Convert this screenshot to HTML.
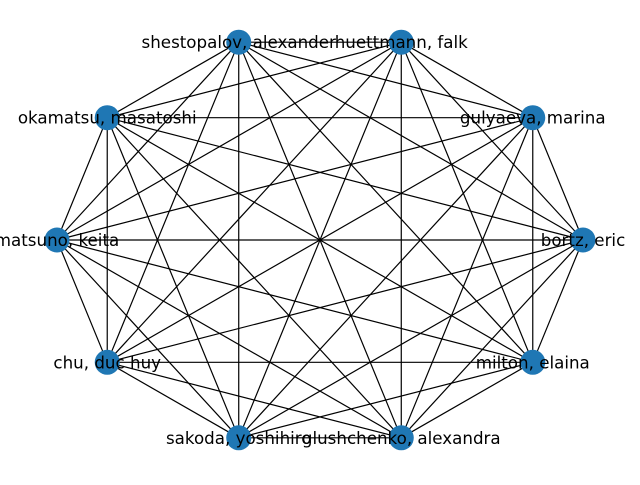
<!DOCTYPE html>
<html><head><meta charset="utf-8"><style>
html,body{margin:0;padding:0;background:#fff;}
svg text{font-family:"DejaVu Sans","Liberation Sans",sans-serif;font-size:16.7px;fill:#000;}
</style></head><body>
<svg id="chart" width="640" height="480" viewBox="0 0 640 480" xmlns="http://www.w3.org/2000/svg">
<g id="edges"></g>
<g id="nodes"></g>
<g id="labels"></g>
</svg>
<script>
const nodeNames = ["bortz, eric","gulyaeva, marina","huettmann, falk","shestopalov, alexander","okamatsu, masatoshi","matsuno, keita","chu, duc huy","sakoda, yoshihiro","glushchenko, alexandra","milton, elaina"];
const nodeX = [1.0, 0.809, 0.309, -0.309, -0.809, -1.0, -0.809, -0.309, 0.309, 0.809];
const nodeY = [0.0, 0.588, 0.951, 0.951, 0.588, 0.0, -0.588, -0.951, -0.951, -0.588];
const edgeList = [];
for (let i = 0; i < nodeNames.length; i++) for (let j = i + 1; j < nodeNames.length; j++) edgeList.push([i, j]);

const NS = "http://www.w3.org/2000/svg";
const sx = v => 320 + 263 * v;
const sy = v => 240 - 208 * v;
const eg = document.getElementById('edges'), ng = document.getElementById('nodes'), lg = document.getElementById('labels');
edgeList.forEach(([a, b]) => {
  const l = document.createElementNS(NS, 'line');
  l.setAttribute('x1', sx(nodeX[a])); l.setAttribute('y1', sy(nodeY[a]));
  l.setAttribute('x2', sx(nodeX[b])); l.setAttribute('y2', sy(nodeY[b]));
  l.setAttribute('stroke', '#000'); l.setAttribute('stroke-width', '1.2');
  
  
  eg.appendChild(l);
});
nodeNames.forEach((n, i) => {
  const c = document.createElementNS(NS, 'circle');
  c.setAttribute('cx', sx(nodeX[i])); c.setAttribute('cy', sy(nodeY[i])); c.setAttribute('r', 12.5);
  c.setAttribute('fill', '#1f77b4');
  
  
  ng.appendChild(c);
  const t = document.createElementNS(NS, 'text');
  t.setAttribute('x', sx(nodeX[i])); t.setAttribute('y', sy(nodeY[i]) + 6);
  t.setAttribute('text-anchor', 'middle');
  t.textContent = n;
  
  
  lg.appendChild(t);
});
</script>
</body></html>
